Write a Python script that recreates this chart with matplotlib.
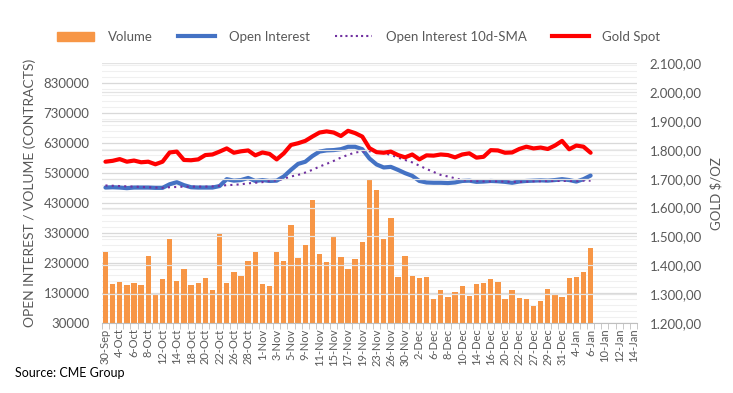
import matplotlib
matplotlib.use("Agg")
import matplotlib.pyplot as plt
from matplotlib.lines import Line2D
from matplotlib.patches import Patch
from matplotlib.ticker import FuncFormatter

# trading days (data ends 6-Jan), axis runs on to 14-Jan
dates = ["30-Sep", "1-Oct", "4-Oct", "5-Oct", "6-Oct", "7-Oct", "8-Oct", "11-Oct", "12-Oct", "13-Oct",
         "14-Oct", "15-Oct", "18-Oct", "19-Oct", "20-Oct", "21-Oct", "22-Oct", "25-Oct", "26-Oct", "27-Oct",
         "28-Oct", "29-Oct", "1-Nov", "2-Nov", "3-Nov", "4-Nov", "5-Nov", "8-Nov", "9-Nov", "10-Nov",
         "11-Nov", "12-Nov", "15-Nov", "16-Nov", "17-Nov", "18-Nov", "19-Nov", "22-Nov", "23-Nov", "24-Nov",
         "26-Nov", "29-Nov", "30-Nov", "1-Dec", "2-Dec", "3-Dec", "6-Dec", "7-Dec", "8-Dec", "9-Dec",
         "10-Dec", "13-Dec", "14-Dec", "15-Dec", "16-Dec", "17-Dec", "20-Dec", "21-Dec", "22-Dec", "23-Dec",
         "27-Dec", "28-Dec", "29-Dec", "30-Dec", "31-Dec", "3-Jan", "4-Jan", "5-Jan", "6-Jan", "7-Jan",
         "10-Jan", "11-Jan", "12-Jan", "13-Jan", "14-Jan"]

volume = [266000, 159000, 168000, 156000, 163000, 156000, 253000, 122000, 176000, 310000,
          169000, 209000, 156000, 165000, 179000, 139000, 326000, 163000, 199000, 186000,
          236000, 266000, 159000, 152000, 266000, 236000, 356000, 246000, 290000, 440000,
          259000, 233000, 320000, 249000, 209000, 243000, 300000, 507000, 473000, 312000,
          380000, 182000, 253000, 186000, 179000, 183000, 109000, 139000, 116000, 133000,
          152000, 119000, 159000, 163000, 176000, 166000, 109000, 139000, 113000, 109000,
          86000, 102000, 142000, 122000, 116000, 179000, 183000, 199000, 280000]

open_interest = [482000, 483000, 482000, 480000, 482000, 482000, 482000, 481000, 481000, 493000,
                 500000, 490000, 483000, 482000, 482000, 482000, 487000, 510000, 505000, 507000,
                 514000, 504000, 507000, 504000, 505000, 519000, 541000, 561000, 568000, 587000,
                 602000, 606000, 607000, 610000, 618000, 618000, 610000, 579000, 559000, 549000,
                 551000, 541000, 530000, 521000, 504000, 499000, 498000, 498000, 497000, 499000,
                 504000, 505000, 501000, 502000, 504000, 503000, 501000, 498000, 502000, 504000,
                 505000, 506000, 505000, 507000, 510000, 507000, 502000, 510000, 522000]

oi_sma10 = [489000, 488000, 487000, 486000, 485000, 484000, 483000, 482000, 481000, 483000,
            484000, 485000, 485000, 485000, 485000, 486000, 488000, 490000, 491000, 493000,
            496000, 498000, 500000, 504000, 506000, 511000, 519000, 524000, 532000, 541000,
            552000, 561000, 571000, 582000, 591000, 599000, 602000, 603000, 601000, 597000,
            591000, 582000, 574000, 566000, 555000, 544000, 534000, 524000, 519000, 513000,
            507000, 505000, 504000, 503000, 503000, 503000, 502000, 501000, 501000, 502000,
            503000, 503000, 504000, 504000, 504000, 504000, 504000, 505000, 505000]

gold = [1759, 1762, 1768, 1759, 1763, 1757, 1759, 1750, 1759, 1791,
        1794, 1765, 1764, 1767, 1782, 1784, 1794, 1805, 1790, 1795,
        1798, 1781, 1791, 1786, 1767, 1788, 1817, 1823, 1831, 1846,
        1860, 1864, 1860, 1848, 1866, 1858, 1846, 1806, 1792, 1790,
        1794, 1782, 1774, 1784, 1767, 1781, 1780, 1784, 1782, 1774,
        1784, 1788, 1773, 1776, 1799, 1798, 1790, 1791, 1803, 1811,
        1805, 1808, 1803, 1815, 1831, 1802, 1815, 1811, 1790]

grey = "#595959"
plt.rcParams["font.family"] = ["Lato", "DejaVu Sans"]

fig = plt.figure(figsize=(7.33, 3.93), dpi=100)
ax = fig.add_axes([0.139, 0.178, 0.730, 0.661])
ax2 = ax.twinx()

x = list(range(len(volume)))

# gridlines (left major/minor and right major)
for v in range(30000, 896600, 20000):
    ax.axhline(v, color="#f0f0f0", lw=0.8, zorder=0)
for v in range(30000, 896600, 100000):
    ax.axhline(v, color="#d9d9d9", lw=0.9, zorder=0)
for g in range(1300, 2101, 100):
    ax2.axhline(g, color="#e3e3e3", lw=0.9, zorder=0)

ax.bar(x, volume, width=0.75, color="#F79646", zorder=2)
ax.plot(x, open_interest, color="#4472C4", lw=3, solid_capstyle="round", zorder=3)
ax.plot(x, oi_sma10, color="#7030A0", lw=1.5, ls=(0, (1, 2)), zorder=4)
ax2.plot(x, gold, color="#FF0000", lw=3, solid_capstyle="round", zorder=3)

ax.set_xlim(-0.5, len(dates) - 0.5)
ax.set_ylim(30000, 896600)
ax.set_yticks(range(30000, 830001, 100000))
ax2.set_ylim(1200, 2100)
ax2.set_yticks(range(1200, 2101, 100))


def euro(v, pos):
    s = f"{v:,.2f}"
    return s.replace(",", "X").replace(".", ",").replace("X", ".")


ax2.yaxis.set_major_formatter(FuncFormatter(euro))

ax.set_xticks(range(0, len(dates), 2))
ax.set_xticklabels(dates[::2], rotation=90, fontsize=8, color=grey)
ax.set_xticks([i - 0.5 for i in range(len(dates) + 1)], minor=True)
ax.tick_params(axis="x", which="major", length=0, pad=4)
ax.tick_params(axis="x", which="minor", length=4, color="#bfbfbf")
ax.tick_params(axis="y", length=0, labelsize=9.5, labelcolor=grey, pad=9)
ax2.tick_params(axis="y", length=0, labelsize=9.5, labelcolor=grey, pad=9)

for a in (ax, ax2):
    for side in ("top", "left", "right", "bottom"):
        a.spines[side].set_visible(False)
ax.spines["bottom"].set_visible(True)
ax.spines["bottom"].set_color("#bfbfbf")

ax.set_ylabel("OPEN INTEREST / VOLUME (CONTRACTS)", fontsize=10, color=grey, labelpad=5)
ax2.set_ylabel("GOLD $/OZ", fontsize=9.5, color=grey, labelpad=6)

handles = [Patch(color="#F79646"),
           Line2D([], [], color="#4472C4", lw=3),
           Line2D([], [], color="#7030A0", lw=1.5, ls=(0, (1, 1.5))),
           Line2D([], [], color="#FF0000", lw=3)]
labels = ["Volume", "Open Interest", "Open Interest 10d-SMA", "Gold Spot"]
fig.legend(handles, labels, loc="center left", bbox_to_anchor=(0.062, 0.906), ncol=4,
           frameon=False, fontsize=9.5, labelcolor=grey, handlelength=2.8,
           columnspacing=1.9, handletextpad=1.05)

fig.text(0.02, 0.04, "Source: CME Group", fontsize=9, color="black")

fig.savefig("out.png", dpi=100)
